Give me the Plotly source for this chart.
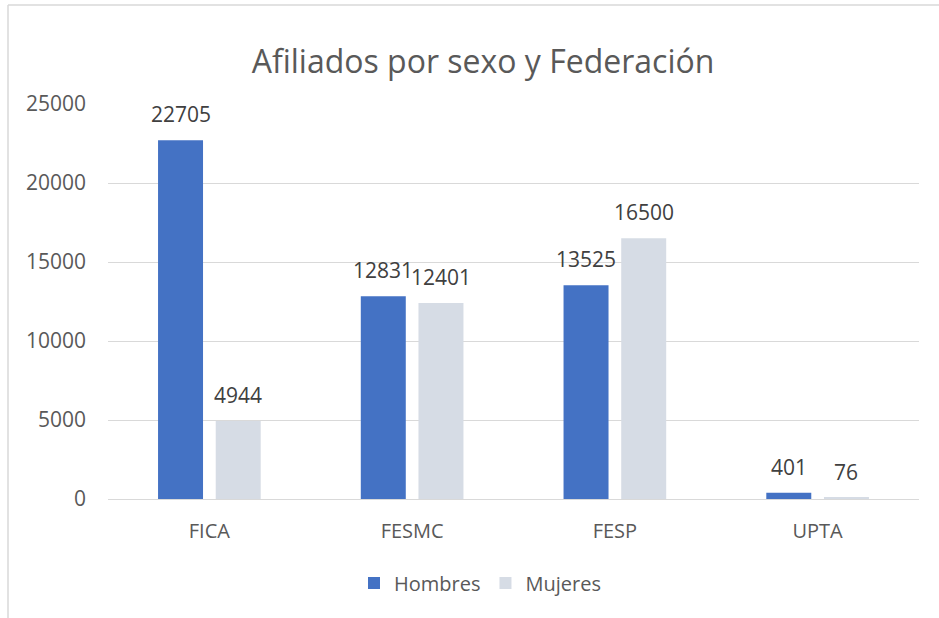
import plotly.graph_objects as go

categories = ["FICA", "FESMC", "FESP", "UPTA"]
hombres = [22705, 12831, 13525, 401]
mujeres = [4944, 12401, 16500, 76]
series_names = ["Hombres", "Mujeres"]
series_colors = ["#4472C4", "#D6DCE5"]
y_ticks = [0, 5000, 10000, 15000, 20000, 25000]

W, H = 939, 618
L, R, T, B = 108, 20, 104, 119
pw, ph = W - L - R, H - T - B

def px_x(x):
    return (x - L) / pw

def px_y(y):
    return (H - B - y) / ph

font_fam = "Open Sans, Liberation Sans, sans-serif"

cat_w = pw / len(categories)
bargap = 0.431
bargroupgap = 0.22
slot = cat_w * (1 - bargap) / 2

fig = go.Figure()
annotations = []
for i, (name, vals, col) in enumerate(zip(series_names, [hombres, mujeres], series_colors)):
    fig.add_trace(go.Bar(x=categories, y=vals, name=name, marker_color=col,
                         marker_line_width=0, hoverinfo="x+y+name"))
    for c, v in zip(categories, vals):
        annotations.append(dict(x=c, y=v, xref="x", yref="y", text=str(v), showarrow=False,
                                xanchor="center", yanchor="bottom",
                                xshift=(i - 0.5) * slot, yshift=10,
                                font=dict(size=21, color="#404040", family=font_fam)))

fig.update_layout(
    width=W, height=H,
    margin=dict(l=L, r=R, t=T, b=B),
    paper_bgcolor="white", plot_bgcolor="white",
    font=dict(family=font_fam, color="#595959"),
    barmode="group", bargap=bargap, bargroupgap=bargroupgap,
    title=dict(text="Afiliados por sexo y Federación", x=px_x(483), xref="paper",
               xanchor="center", y=1 - 62 / H, yanchor="middle",
               font=dict(size=32, color="#595959", family=font_fam)),
    legend=dict(orientation="h", x=px_x(480), xanchor="center", y=px_y(583), yanchor="middle",
                font=dict(size=20, color="#595959"), traceorder="normal"),
    xaxis=dict(showline=False, ticks="", tickfont=dict(size=20, color="#595959"),
               showgrid=False, ticklabelstandoff=18),
    yaxis=dict(range=[0, 25000], tickvals=y_ticks, ticktext=[str(t) for t in y_ticks],
               showgrid=True, gridcolor="#D9D9D9",
               gridwidth=1.3, zeroline=True, zerolinecolor="#D9D9D9", zerolinewidth=1.3,
               tickfont=dict(size=21, color="#595959"), ticks="", ticklabelstandoff=21),
    annotations=annotations,
    shapes=[
        dict(type="line", xref="paper", yref="paper", x0=px_x(8), x1=px_x(W + 5),
             y0=px_y(5), y1=px_y(5), line=dict(color="#D9D9D9", width=1.5)),
        dict(type="line", xref="paper", yref="paper", x0=px_x(8), x1=px_x(8),
             y0=px_y(5), y1=px_y(H + 5), line=dict(color="#D9D9D9", width=1.5)),
    ],
)

fig.write_html("out.html", config={"displayModeBar": False},
               post_script="document.body.style.margin='0';")
